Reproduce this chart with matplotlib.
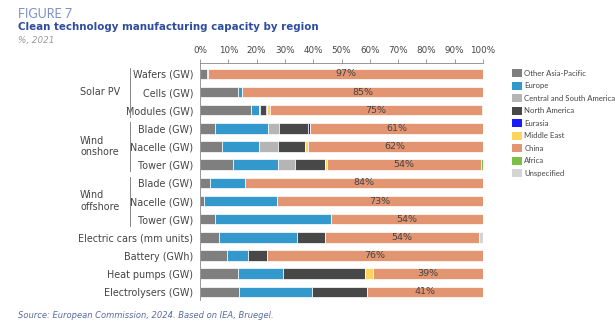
import numpy as np
import matplotlib.pyplot as plt
from matplotlib.patches import Patch
from matplotlib.transforms import blended_transform_factory

plt.rcParams['font.family'] = ['DejaVu Sans']

# Rows (top to bottom)
rows = ["Wafers (GW)", "Cells (GW)", "Modules (GW)",
        "Blade (GW)", "Nacelle (GW)", "Tower (GW)",
        "Blade (GW)", "Nacelle (GW)", "Tower (GW)",
        "Electric cars (mm units)", "Battery (GWh)", "Heat pumps (GW)", "Electrolysers (GW)"]

regions = ["Other Asia-Pacific", "Europe", "Central and South America", "North America",
           "Eurasia", "Middle East", "China", "Africa", "Unspecified"]
colors = ["#7f7f7f", "#3399cc", "#b5b5b5", "#484848",
          "#1a1aff", "#ffd45e", "#e39470", "#7bbf44", "#d4d4d4"]

# Share (%) by region, one list per region, in row order
other_asia = [2.3, 13.6, 18.0, 5.4, 7.8, 11.8, 3.7, 1.5, 5.2, 6.6, 9.4, 13.3, 13.7]
europe     = [0.7, 1.4, 2.7, 18.6, 13.2, 15.9, 12.1, 25.6, 41.0, 27.6, 7.5, 15.9, 25.9]
csa        = [0, 0, 0.5, 4.0, 6.5, 5.7, 0, 0, 0, 0, 0, 0, 0]
n_america  = [0, 0, 2.1, 10.3, 9.7, 10.8, 0, 0, 0, 9.9, 6.6, 29.1, 19.3]
eurasia    = [0, 0, 0.4, 0.7, 0, 0, 0, 0, 0, 0, 0, 0, 0]
mid_east   = [0, 0, 0.9, 0, 0.8, 0.8, 0, 0, 0, 0, 0, 2.8, 0]
china      = [97, 85, 75, 61, 62, 54.3, 84.2, 72.9, 53.8, 54.4, 76.5, 38.9, 41.1]
africa     = [0, 0, 0.4, 0, 0, 0.7, 0, 0, 0, 0, 0, 0, 0]
unspec     = [0, 0, 0, 0, 0, 0, 0, 0, 0, 1.5, 0, 0, 0]

series = [other_asia, europe, csa, n_america, eurasia, mid_east, china, africa, unspec]

groups = [("Solar PV", 0, 2), ("Wind\nonshore", 3, 5), ("Wind\noffshore", 6, 8)]

fig = plt.figure(figsize=(6.15, 3.3), dpi=100)
ax = fig.add_axes([200 / 615, 1 - 300 / 330, 283 / 615, 237 / 330])

y = np.arange(len(rows))
left = np.zeros(len(rows))
for vals, col in zip(series, colors):
    vals = np.array(vals, dtype=float)
    ax.barh(y, vals, left=left, height=0.58, color=col, edgecolor="white", linewidth=0.5)
    left += vals

# China value labels
china_left = np.array(other_asia) + np.array(europe) + np.array(csa) + np.array(n_america) \
    + np.array(eurasia) + np.array(mid_east)
for i, v in enumerate(china):
    ax.text(china_left[i] + v / 2, y[i], f"{v:.0f}%", ha="center", va="center",
            fontsize=6.8, color="#444444")

ax.set_xlim(0, 100)
ax.set_ylim(len(rows) - 0.55, -0.6)
ax.set_xticks(np.arange(0, 101, 10))
ax.set_xticklabels([f"{t}%" for t in range(0, 101, 10)])
ax.xaxis.tick_top()
ax.tick_params(axis="x", length=3, width=0.6, color="#888888", labelsize=6.3,
               labelcolor="#444444", pad=3)
ax.set_yticks(y)
ax.set_yticklabels(rows)
ax.tick_params(axis="y", length=0, labelsize=6.9, labelcolor="#444444", pad=5)
for s in ["bottom", "right"]:
    ax.spines[s].set_visible(False)
ax.spines["top"].set_color("#888888")
ax.spines["left"].set_color("#888888")
ax.spines["top"].set_linewidth(0.6)
ax.spines["left"].set_linewidth(0.6)

# Group brackets and labels
tr = blended_transform_factory(fig.transFigure, ax.transData)
for name, a, b in groups:
    ax.plot([130 / 615, 130 / 615], [a - 0.35, b + 0.35], transform=tr, color="#888888",
            lw=0.7, clip_on=False)
    ax.text(80 / 615, (a + b) / 2, name, transform=tr, ha="left", va="center",
            fontsize=6.9, color="#444444")

# Legend
handles = [Patch(facecolor=c, edgecolor="none") for c in colors]
fig.legend(handles, regions, loc="upper left", bbox_to_anchor=(505 / 615, 1 - 62 / 330),
           frameon=False, prop={"family": "Lato", "size": 5.6}, handlelength=1.25,
           handleheight=1.25, handletextpad=0.35, labelspacing=0.55, labelcolor="#444444")

# Titles and source
fig.text(18 / 615, 1 - 14 / 330, "FIGURE 7", fontsize=9, color="#7b8fc7", va="center",
         family="Lato")
fig.text(18 / 615, 1 - 27 / 330, "Clean technology manufacturing capacity by region",
         fontsize=7.4, fontweight="bold", color="#2e4d9e", va="center")
fig.text(18 / 615, 1 - 40 / 330, "%, 2021", fontsize=6.3, style="italic", color="#999999",
         va="center")
fig.text(18 / 615, 1 - 316 / 330, "Source: European Commission, 2024. Based on IEA, Bruegel.",
         fontsize=6.0, style="italic", color="#5a6c9e", va="center")

fig.savefig("out.png", dpi=100)
